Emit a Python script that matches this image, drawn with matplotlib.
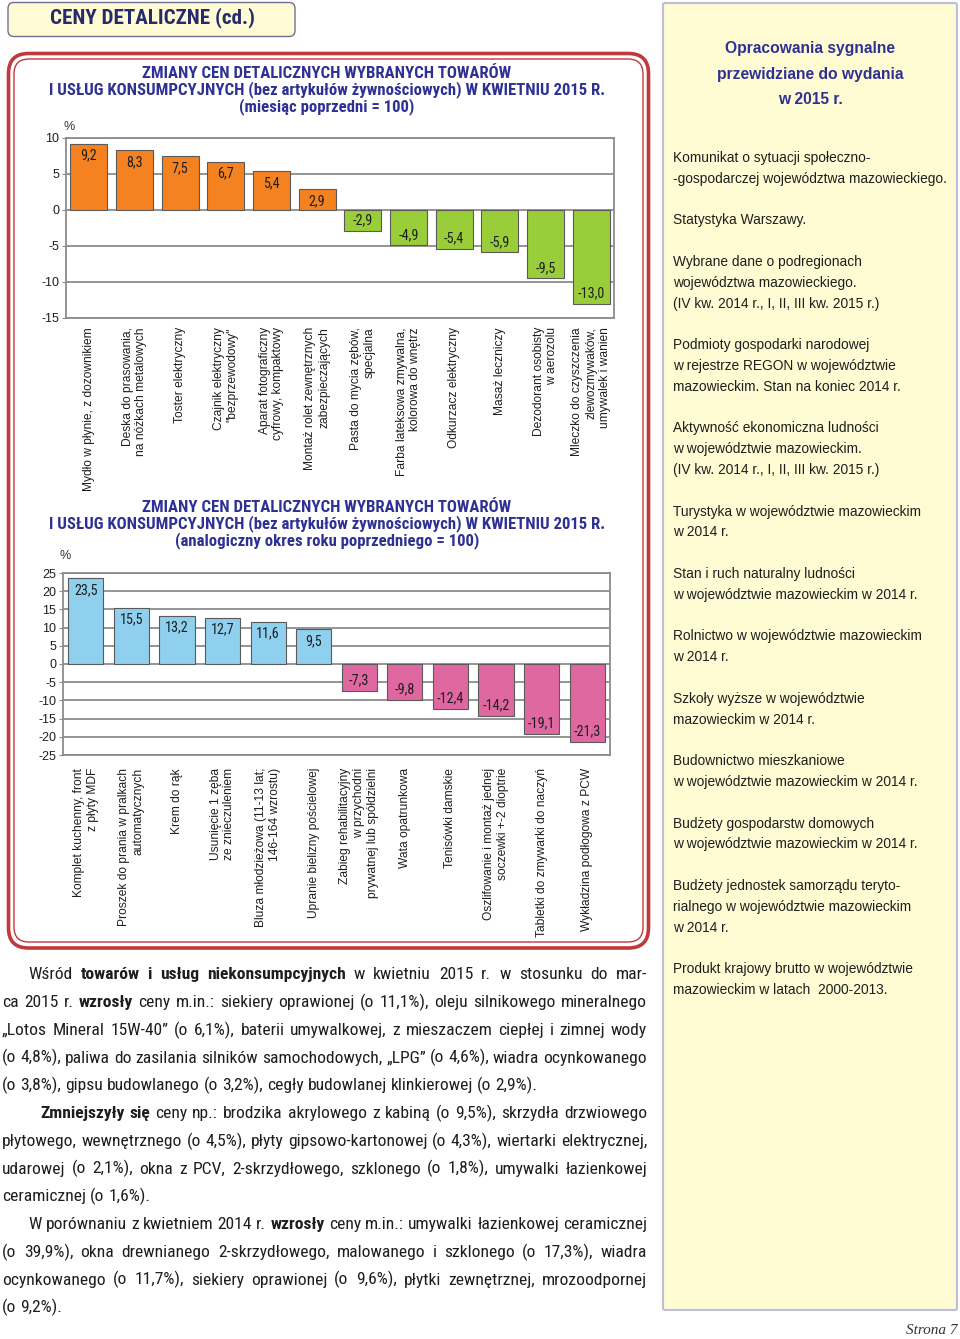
import matplotlib
matplotlib.use("Agg")
import matplotlib.pyplot as plt
from matplotlib import font_manager
from matplotlib.font_manager import FontProperties
from matplotlib.patches import FancyBboxPatch
import numpy as np

plt.rcParams['axes.unicode_minus'] = False
plt.rcParams['font.family'] = ['Liberation Sans', 'DejaVu Sans']

# --- data -------------------------------------------------------------
cats_month = ["Mydło w płynie, z dozownikiem",
              "Deska do prasowania,\nna nóżkach metalowych",
              "Toster elektryczny",
              "Czajnik elektryczny\n\"bezprzewodowy\"",
              "Aparat fotograficzny\ncyfrowy, kompaktowy",
              "Montaż rolet zewnętrznych\nzabezpieczających",
              "Pasta do mycia zębów,\nspecjalna",
              "Farba lateksowa zmywalna,\nkolorowa do wnętrz",
              "Odkurzacz elektryczny",
              "Masaż leczniczy",
              "Dezodorant osobisty\nw aerozolu",
              "Mleczko do czyszczenia\nzlewozmywaków,\numywalek i wanien"]
vals_month = [9.2, 8.3, 7.5, 6.7, 5.4, 2.9, -2.9, -4.9, -5.4, -5.9, -9.5, -13.0]

cats_year = ["Komplet kuchenny, front\nz płyty MDF",
             "Proszek do prania w pralkach\nautomatycznych",
             "Krem do rąk",
             "Usunięcie 1 zęba\nze znieczuleniem",
             "Bluza młodzieżowa (11-13 lat;\n146-164 wzrostu)",
             "Upranie bielizny pościelowej",
             "Zabieg rehabilitacyjny\nw przychodni\nprywatnej lub spółdzielni",
             "Wata opatrunkowa",
             "Tenisówki damskie",
             "Oszlifowanie i montaż jednej\nsoczewki +-2 dioptrie",
             "Tabletki do zmywarki do naczyń",
             "Wykładzina podłogowa z PCW"]
vals_year = [23.5, 15.5, 13.2, 12.7, 11.6, 9.5, -7.3, -9.8, -12.4, -14.2, -19.1, -21.3]

ticks_month = [-15, -10, -5, 0, 5, 10]
ticks_year = [-25, -20, -15, -10, -5, 0, 5, 10, 15, 20, 25]

title_month = ["ZMIANY CEN DETALICZNYCH WYBRANYCH TOWARÓW",
               "I USŁUG KONSUMPCYJNYCH (bez artykułów żywnościowych) W KWIETNIU 2015 R.",
               "(miesiąc poprzedni = 100)"]
title_year = ["ZMIANY CEN DETALICZNYCH WYBRANYCH TOWARÓW",
              "I USŁUG KONSUMPCYJNYCH (bez artykułów żywnościowych) W KWIETNIU 2015 R.",
              "(analogiczny okres roku poprzedniego = 100)"]

header = "CENY DETALICZNE (cd.)"
panel_head = ["Opracowania sygnalne", "przewidziane do wydania", "w 2015 r."]
panel_items = [
    ["Komunikat o sytuacji społeczno-", "-gospodarczej województwa mazowieckiego."],
    ["Statystyka Warszawy."],
    ["Wybrane dane o podregionach", "województwa mazowieckiego.",
     "(IV kw. 2014 r., I, II, III kw. 2015 r.)"],
    ["Podmioty gospodarki narodowej", "w rejestrze REGON w województwie",
     "mazowieckim. Stan na koniec 2014 r."],
    ["Aktywność ekonomiczna ludności", "w województwie mazowieckim.",
     "(IV kw. 2014 r., I, II, III kw. 2015 r.)"],
    ["Turystyka w województwie mazowieckim", "w 2014 r."],
    ["Stan i ruch naturalny ludności", "w województwie mazowieckim w 2014 r."],
    ["Rolnictwo w województwie mazowieckim", "w 2014 r."],
    ["Szkoły wyższe w województwie", "mazowieckim w 2014 r."],
    ["Budownictwo mieszkaniowe", "w województwie mazowieckim w 2014 r."],
    ["Budżety gospodarstw domowych", "w województwie mazowieckim w 2014 r."],
    ["Budżety jednostek samorządu teryto-", "rialnego w województwie mazowieckim",
     "w 2014 r."],
    ["Produkt krajowy brutto w województwie", "mazowieckim w latach  2000-2013."],
]

# (text, indent px, justified) ; **bold**
body = [
    ("Wśród **towarów i usług niekonsumpcyjnych** w kwietniu 2015 r. w stosunku do mar-", 26, True),
    ("ca 2015 r. **wzrosły** ceny m.in.: siekiery oprawionej (o 11,1%), oleju silnikowego mineralnego", 0, True),
    ("„Lotos Mineral 15W-40” (o 6,1%), baterii umywalkowej, z mieszaczem ciepłej i zimnej wody", 0, True),
    ("(o 4,8%), paliwa do zasilania silników samochodowych, „LPG” (o 4,6%), wiadra ocynkowanego", 0, True),
    ("(o 3,8%), gipsu budowlanego (o 3,2%), cegły budowlanej klinkierowej (o 2,9%).", 0, False),
    ("**Zmniejszyły się** ceny np.: brodzika akrylowego z kabiną (o 9,5%), skrzydła drzwiowego", 38, True),
    ("płytowego, wewnętrznego (o 4,5%), płyty gipsowo-kartonowej (o 4,3%), wiertarki elektrycznej,", 0, True),
    ("udarowej (o 2,1%), okna z PCV, 2-skrzydłowego, szklonego (o 1,8%), umywalki łazienkowej", 0, True),
    ("ceramicznej (o 1,6%).", 0, False),
    ("W porównaniu z kwietniem 2014 r. **wzrosły** ceny m.in.: umywalki łazienkowej ceramicznej", 26, True),
    ("(o 39,9%), okna drewnianego 2-skrzydłowego, malowanego i szklonego (o 17,3%), wiadra", 0, True),
    ("ocynkowanego (o 11,7%), siekiery oprawionej (o 9,6%), płytki zewnętrznej, mrozoodpornej", 0, True),
    ("(o 9,2%).", 0, False),
]

# --- setup ------------------------------------------------------------
W, H = 960, 1339
fig = plt.figure(figsize=(W / 100, H / 100), dpi=100)
fig.patch.set_facecolor('white')
renderer = fig.canvas.get_renderer()

names = {f.name for f in font_manager.fontManager.ttflist}
NARROW = next((n for n in ('Liberation Sans Narrow', 'Arial Narrow',
                           'Roboto Condensed', 'Open Sans Condensed') if n in names), None)


def narrow(size=10, weight='normal'):
    if NARROW:
        return FontProperties(family=NARROW, size=size, weight=weight)
    return FontProperties(family=['Liberation Sans', 'DejaVu Sans'],
                          stretch='condensed', size=size, weight=weight)


def sans(size=10, weight='normal', style='normal', family='Liberation Sans'):
    return FontProperties(family=[family, 'DejaVu Sans'], size=size, weight=weight, style=style)


def text_w(s, fp):
    return renderer.get_text_width_height_descent(s, fp, ismath=False)[0]


def fit(s, fp, width):
    fp = fp.copy()
    fp.set_size(10)
    return 10 * width / text_w(s, fp)


NAVY = '#2E3192'
INK = '#1E1E1E'

bg = fig.add_axes([0, 0, 1, 1])
bg.set_xlim(0, W)
bg.set_ylim(H, 0)
bg.axis('off')

# boxes
bg.add_patch(FancyBboxPatch((8, 2.5), 287, 34, boxstyle='round,pad=0,rounding_size=6',
                            fc='#FFFBD4', ec='#6F6F92', lw=1))
bg.add_patch(FancyBboxPatch((663, 3), 294, 1307, boxstyle='round,pad=0,rounding_size=2',
                            fc='#FFFBD3', ec='#BDBDE0', lw=1.5))
bg.add_patch(FancyBboxPatch((8.5, 53.5), 640, 894.5, boxstyle='round,pad=0,rounding_size=20',
                            fc='white', ec='#C0393D', lw=2.6))
bg.add_patch(FancyBboxPatch((14, 59), 629, 883, boxstyle='round,pad=0,rounding_size=15',
                            fc='none', ec='#C0393D', lw=1.0))

# header
fp = narrow(weight='bold')
fp.set_size(fit(header, fp, 203))
bg.text(50, 18, header, fontproperties=fp, color='#262C6B', ha='left', va='center')

# chart titles
fp = narrow(weight='bold')
fp.set_size(fit(title_month[1], fp, 554))
for k, line in enumerate(title_month):
    bg.text(327, 73 + 17 * k, line, fontproperties=fp, color=NAVY, ha='center', va='center')
for k, line in enumerate(title_year):
    bg.text(327, 507 + 17 * k, line, fontproperties=fp, color=NAVY, ha='center', va='center')
bg.text(64, 127, '%', fontsize=9, color='#333333', ha='left', va='center')
bg.text(60, 556, '%', fontsize=9, color='#333333', ha='left', va='center')

# right panel
fp = sans(weight='bold')
fp.set_size(fit(panel_head[1], fp, 187))
for k, line in enumerate(panel_head):
    bg.text(810, 48 + 26 * k, line, fontproperties=fp, color=NAVY, ha='center', va='center')

fp = sans()
fp.set_size(fit(panel_items[0][1], fp, 275))
k = 0
for item in panel_items:
    for line in item:
        bg.text(673, 158 + 20.8 * k, line, fontproperties=fp, color=INK, ha='left', va='center')
        k += 1
    k += 1

# body text, justified
def parse(s):
    words = []
    for i, chunk in enumerate(s.split('**')):
        for w in chunk.split():
            words.append((w, i % 2 == 1))
    return words


X0, X1 = 2, 647
ratios = []
for text, indent, just in body:
    if not just:
        continue
    words = parse(text)
    fps = {False: narrow(12), True: narrow(12, 'bold')}
    sp = text_w('a a', fps[False]) - text_w('aa', fps[False])
    nat = sum(text_w(w, fps[b]) for w, b in words) + sp * (len(words) - 1)
    ratios.append((X1 - X0 - indent) / nat)
body_size = 12 * min(ratios) * 0.995
fps = {False: narrow(body_size), True: narrow(body_size, 'bold')}
space = text_w('a a', fps[False]) - text_w('aa', fps[False])
for j, (text, indent, just) in enumerate(body):
    words = parse(text)
    widths = [text_w(w, fps[b]) for w, b in words]
    x = X0 + indent
    gap = (X1 - x - sum(widths)) / (len(words) - 1) if just and len(words) > 1 else space
    y = 973 + 27.75 * j + 0.36 * body_size * 100 / 72
    for (w, b), wd in zip(words, widths):
        bg.text(x, y, w, fontproperties=fps[b], color=INK, ha='left', va='baseline')
        x += wd + gap

# page number
fp = sans(style='italic', family='Liberation Serif')
fp.set_size(fit('Strona 7', fp, 52))
bg.text(957, 1331, 'Strona 7', fontproperties=fp, color='#333333', ha='right', va='center')

# --- charts -----------------------------------------------------------
cat_size = fit(cats_month[0], sans(), 165)
fpv = narrow()
val_size = fit('-13,0', fpv, 27)


def chart(rect, cats, vals, ticks, c_pos, c_neg, width, pad):
    ax = fig.add_axes(rect)
    ax.set_facecolor('white')
    x = np.arange(len(vals))
    colors = [c_pos if v > 0 else c_neg for v in vals]
    ax.bar(x, vals, width=width, color=colors, edgecolor='#5A5A5A', linewidth=0.8, zorder=3)
    ax.set_xlim(-0.5, len(vals) - 0.5)
    ax.set_ylim(ticks[0], ticks[-1])
    ax.set_yticks(ticks)
    ax.yaxis.grid(True, color='#8C8C8C', lw=1.3)
    ax.set_axisbelow(True)
    for s in ax.spines.values():
        s.set_color('#8C8C8C')
        s.set_linewidth(1.3)
    ax.set_xticks(x)
    ax.set_xticklabels(cats, rotation=90, ha='center', va='top', multialignment='right',
                       fontsize=cat_size, color=INK)
    ax.tick_params(axis='x', length=0, pad=pad)
    ax.tick_params(axis='y', length=3, width=0.8, color='#8C8C8C', labelsize=9,
                   labelcolor=INK, pad=2)
    for i, v in zip(x, vals):
        ax.annotate(f"{v:.1f}".replace('.', ','), (i, v),
                    xytext=(0, -8.5 if v > 0 else 7.5), textcoords='offset points',
                    ha='center', va='center', fontproperties=narrow(val_size), color=INK,
                    zorder=4)
    return ax


chart([66 / W, 1 - 318 / H, 548 / W, 180 / H], cats_month, vals_month, ticks_month,
      '#F58220', '#9ACD3A', 0.81, 6.5)
chart([63 / W, 1 - 755 / H, 547 / W, 182 / H], cats_year, vals_year, ticks_year,
      '#8ED0EE', '#DF68A0', 0.77, 9.4)

fig.savefig('out.png', dpi=100, facecolor='white')
